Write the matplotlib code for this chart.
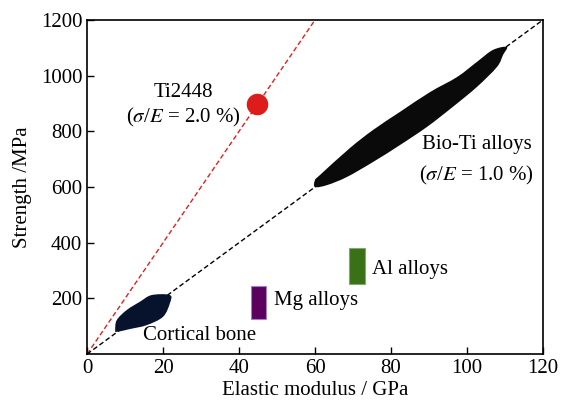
import numpy as np
import matplotlib
matplotlib.use("Agg")
import matplotlib.pyplot as plt
from matplotlib.patches import PathPatch, Rectangle
from matplotlib.path import Path

plt.rcParams['font.family'] = ['Liberation Serif', 'DejaVu Serif']
plt.rcParams['mathtext.fontset'] = 'stix'

# sigma/E reference lines (E in GPa, strength in MPa)
ratio_ti2448 = 0.020
ratio_bioti = 0.010
e_red = [0, 60]
e_black = [0, 120]

# Ti2448 point
ti2448_e = 44.6
ti2448_s = 897

# Bio-Ti alloys region outline (E, strength)
bioti_e = [60, 61.3, 69.2, 75.3, 82.4, 90.3, 97.4, 102.6, 106.8, 110.5,
           109.5, 107.9, 102.6, 96.3, 89.5, 82.4, 75.3, 68.4, 63.2, 60]
bioti_s = [625, 643, 740, 805, 870, 941, 995, 1049, 1092, 1103,
           1074, 1031, 959, 888, 816, 751, 690, 636, 607, 600]

# Cortical bone region outline
bone_e = [7.4, 7.8, 10.4, 13.9, 17.0, 21.8, 21.8, 20.0, 15.7, 11.3, 7.8]
bone_s = [86, 122, 158, 188, 212, 212, 183, 134, 104, 90, 80]

# alloy ranges: (E min, E max, strength min, strength max)
mg_range = (43.1, 47.1, 125, 244)
al_range = (69.0, 73.2, 250, 380)


def smooth_blob(ax, xs, ys, color):
    # closed Catmull-Rom outline drawn as cubic Bezier segments in display space
    pts = ax.transData.transform(np.column_stack([xs, ys]))
    n = len(pts)
    verts = [pts[0]]
    codes = [Path.MOVETO]
    for i in range(n):
        p0, p1, p2, p3 = pts[i - 1], pts[i], pts[(i + 1) % n], pts[(i + 2) % n]
        verts += [p1 + (p2 - p0) / 6, p2 - (p3 - p1) / 6, p2]
        codes += [Path.CURVE4] * 3
    verts = ax.transData.inverted().transform(np.array(verts))
    ax.add_patch(PathPatch(Path(verts, codes), facecolor=color,
                           edgecolor='none', zorder=3))


fig = plt.figure(figsize=(5.62, 4.07), dpi=100)
ax = fig.add_axes([0.155, 0.130, 0.811, 0.821])
ax.set_xlim(0, 120)
ax.set_ylim(0, 1200)

ax.plot(e_red, np.array(e_red) * 1000 * ratio_ti2448, color='#e02020',
        ls=(0, (3.5, 2)), lw=1.0, zorder=2)
ax.plot(e_black, np.array(e_black) * 1000 * ratio_bioti, color='black',
        ls=(0, (3.5, 2)), lw=1.0, zorder=2)

smooth_blob(ax, bioti_e, bioti_s, '#0a0a0a')
smooth_blob(ax, bone_e, bone_s, '#07122c')

ax.add_patch(Rectangle((mg_range[0], mg_range[2]), mg_range[1] - mg_range[0],
                       mg_range[3] - mg_range[2], facecolor='#5c0060',
                       edgecolor='#a080c0', lw=0.8, zorder=3))
ax.add_patch(Rectangle((al_range[0], al_range[2]), al_range[1] - al_range[0],
                       al_range[3] - al_range[2], facecolor='#3a7016',
                       edgecolor='#80a870', lw=0.8, zorder=3))

ax.plot([ti2448_e], [ti2448_s], 'o', color='#dd1c1c', markersize=14.5, zorder=4)

fs = 15
ax.text(25.3, 938, 'Ti2448', ha='center', va='center', fontsize=fs)
ax.text(25.3, 851, r'($\sigma$/$E$ = 2.0 %)', ha='center', va='center', fontsize=fs)
ax.text(102.5, 751, 'Bio-Ti alloys', ha='center', va='center', fontsize=fs)
ax.text(102.5, 643, r'($\sigma$/$E$ = 1.0 %)', ha='center', va='center', fontsize=fs)
ax.text(29.7, 68, 'Cortical bone', ha='center', va='center', fontsize=fs)
ax.text(60.4, 194, 'Mg alloys', ha='center', va='center', fontsize=fs)
ax.text(85, 302, 'Al alloys', ha='center', va='center', fontsize=fs)

ax.set_xticks([0, 20, 40, 60, 80, 100, 120])
ax.set_yticks([200, 400, 600, 800, 1000, 1200])
ax.tick_params(direction='in', length=5, width=1, labelsize=fs, top=False, right=False)
for sp in ax.spines.values():
    sp.set_linewidth(1.2)
ax.set_xlabel('Elastic modulus / GPa', fontsize=fs, labelpad=2)
ax.set_ylabel('Strength /MPa', fontsize=fs, labelpad=6)

fig.savefig('out.png', dpi=100)
